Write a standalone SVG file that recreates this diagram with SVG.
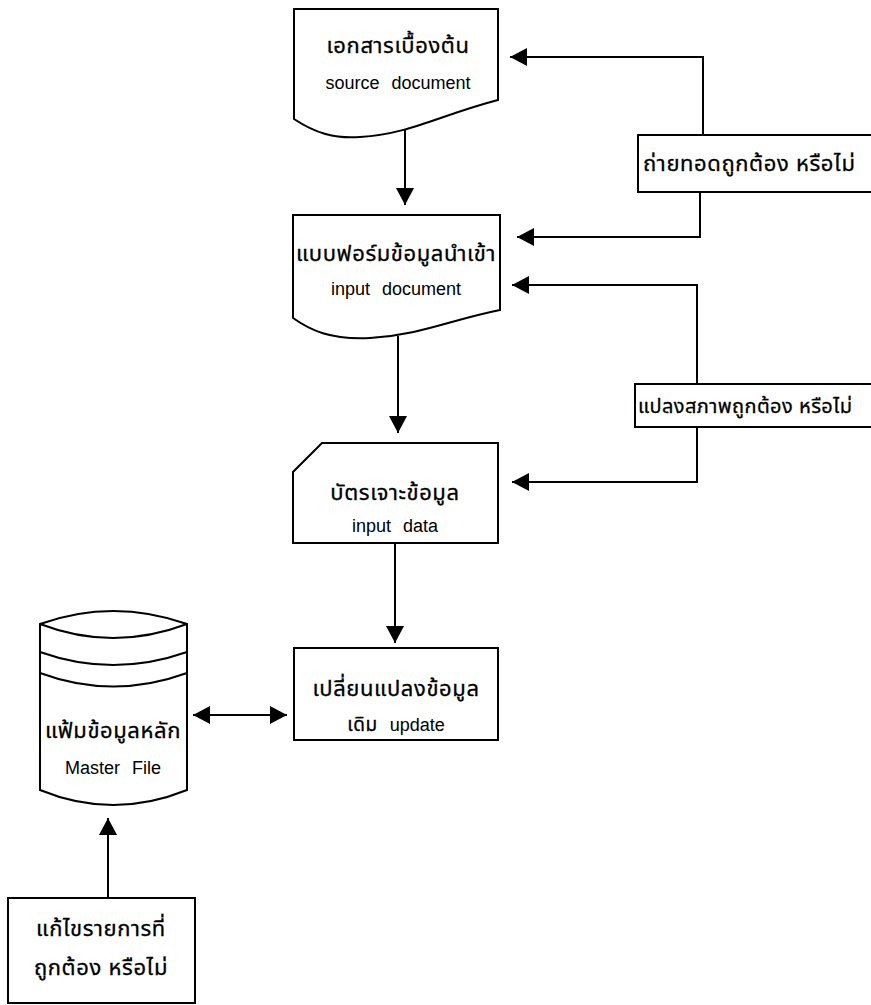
<svg xmlns="http://www.w3.org/2000/svg" width="871" height="1005" viewBox="0 0 871 1005">
<style>
.s{fill:#fff;stroke:#000;stroke-width:2;stroke-linejoin:miter}
.l{fill:none;stroke:#000;stroke-width:2}
.th{font-family:"Liberation Sans","Noto Sans Thai","Noto Sans",sans-serif;font-size:22px;letter-spacing:0.6px;fill:#000;stroke:#000;stroke-width:0.3}
.en{font-family:"Liberation Sans",Arial,sans-serif;font-size:18px;fill:#000;word-spacing:7px}
</style>
<defs>
<marker id="ah" markerUnits="userSpaceOnUse" markerWidth="18" markerHeight="20" refX="17" refY="9" orient="auto-start-reverse">
<path d="M0,0 L17,9 L0,18 Z" fill="#000"/>
</marker>
</defs>
<rect width="871" height="1005" fill="#fff"/>
<g id="connectors">
<line class="l" x1="405" y1="128" x2="405" y2="205" marker-end="url(#ah)"/>
<line class="l" x1="398" y1="336" x2="398" y2="433" marker-end="url(#ah)"/>
<line class="l" x1="395" y1="543" x2="395" y2="643" marker-end="url(#ah)"/>
<line class="l" x1="193" y1="715" x2="287" y2="715" marker-start="url(#ah)" marker-end="url(#ah)"/>
<line class="l" x1="108" y1="898" x2="108" y2="818" marker-end="url(#ah)"/>
<polyline class="l" points="703,135 703,57 510,57" marker-end="url(#ah)"/>
<polyline class="l" points="700,192 700,237 517,237" marker-end="url(#ah)"/>
<polyline class="l" points="697,384 697,285 512,285" marker-end="url(#ah)"/>
<polyline class="l" points="697,427 697,482 512,482" marker-end="url(#ah)"/>
</g>
<g id="source-document">
<path class="s" d="M294,9 H498 V100 C440,115 410,134 360,137 C335,139 315,133 294,119 Z"/>
<text class="th" x="398" y="53" text-anchor="middle">เอกสารเบื้องต้น</text>
<text class="en" x="398" y="89" text-anchor="middle">source document</text>
</g>
<g id="input-document">
<path class="s" d="M293,215 H500 V310 C450,320 420,335 370,338 C330,340 310,330 293,318 Z"/>
<text class="th" x="396" y="261" text-anchor="middle">แบบฟอร์มข้อมูลนำเข้า</text>
<text class="en" x="396" y="295" text-anchor="middle">input document</text>
</g>
<g id="input-data">
<path class="s" d="M322,443 H498 V543 H293 V472 Z"/>
<text class="th" x="395" y="500" text-anchor="middle">บัตรเจาะข้อมูล</text>
<text class="en" x="395" y="532" text-anchor="middle">input data</text>
</g>
<g id="update">
<rect class="s" x="294" y="648" width="204" height="92"/>
<text class="th" x="396" y="696" text-anchor="middle">เปลี่ยนแปลงข้อมูล</text>
<text class="en" x="396" y="731" text-anchor="middle"><tspan class="th" style="font-size:19px">เดิม</tspan> update</text>
</g>
<g id="master-file">
<path class="s" d="M40,624 Q113,598 187,624 V790 Q113,820 40,790 Z"/>
<path class="l" d="M40,624 Q113,652 187,624"/>
<path class="l" d="M40,652 Q113,678 187,652"/>
<path class="l" d="M40,673 Q113,700 187,673"/>
<text class="th" x="113" y="738" text-anchor="middle">แฟ้มข้อมูลหลัก</text>
<text class="en" x="113" y="774" text-anchor="middle">Master File</text>
</g>
<g id="correct-entries">
<rect class="s" x="8" y="898" width="187" height="105"/>
<text class="th" x="101" y="936" text-anchor="middle">แก้ไขรายการที่</text>
<text class="th" x="101" y="975" text-anchor="middle">ถูกต้อง  หรือไม่</text>
</g>
<g id="transcription-check">
<rect class="s" x="638" y="135" width="245" height="57"/>
<text class="th" x="643" y="171">ถ่ายทอดถูกต้อง  หรือไม่</text>
</g>
<g id="conversion-check">
<rect class="s" x="635" y="384" width="245" height="43"/>
<text class="th" x="638" y="413" style="font-size:20px;letter-spacing:0.4px">แปลงสภาพถูกต้อง  หรือไม่</text>
</g>
</svg>
